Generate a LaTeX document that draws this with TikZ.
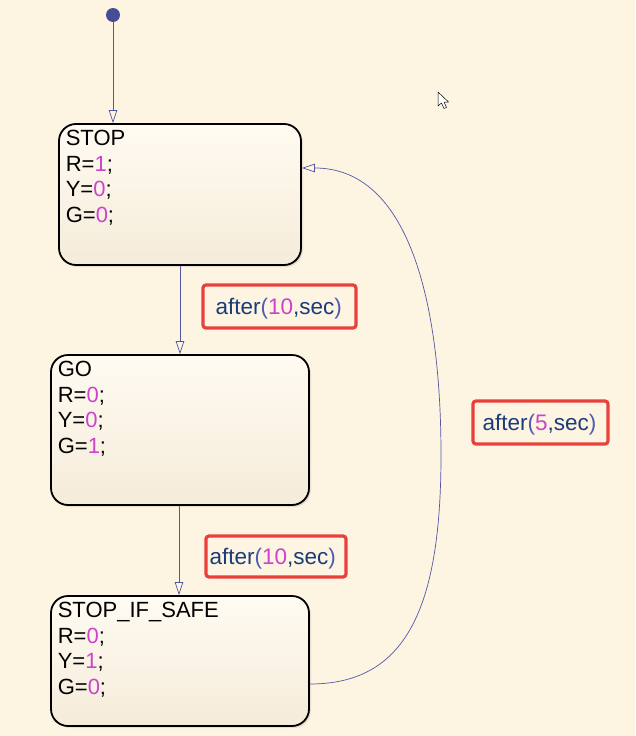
\documentclass[tikz,border=0pt]{standalone}
\usepackage{fontspec}
\setmainfont{Liberation Sans}
\usetikzlibrary{arrows.meta,calc,shadows}
\definecolor{bgc}{RGB}{253,244,226}
\definecolor{sttop}{RGB}{255,251,242}
\definecolor{stbot}{RGB}{245,235,217}
\definecolor{trc}{RGB}{82,87,166}
\definecolor{dotc}{RGB}{70,76,150}
\definecolor{redc}{RGB}{232,65,60}
\definecolor{navy}{RGB}{26,60,120}
\definecolor{parc}{RGB}{79,93,176}
\definecolor{magc}{RGB}{204,68,204}
\newcommand\nm[1]{\textcolor{magc}{#1}}
\newcommand\aft[1]{\textcolor{navy}{after}\textcolor{parc}{(}\nm{#1}\textcolor{navy}{,sec}\textcolor{parc}{)}}
\tikzset{
  stbox/.style={draw=black, line width=1.8pt, rounded corners=17pt, top color=sttop, bottom color=stbot,
    drop shadow={opacity=0.18, shadow xshift=2pt, shadow yshift=-2pt}, inner sep=0pt},
  sttext/.style={anchor=base west, inner sep=0pt, font=\fontsize{22}{26}\selectfont, text=black},
  trans/.style={draw=trc, line width=0.7pt, -{Triangle[open, length=13pt, width=8.5pt, fill=bgc]}},
  lblbox/.style={draw=redc, line width=3.2pt, rounded corners=3pt, fill=bgc, inner sep=0pt},
  lbltext/.style={anchor=base west, inner sep=0pt, font=\fontsize{22.5}{26}\selectfont},
}
\newcommand\stlines[5]{%
  \node[sttext] (#1-a) at ($(#1.north west)+(7.5,22.5)$) {#2};
  \node[sttext] (#1-b) at ($(#1.north west)+(7.5,48)$) {#3};
  \node[sttext] (#1-c) at ($(#1.north west)+(7.5,73.5)$) {#4};
  \node[sttext] (#1-d) at ($(#1.north west)+(7.5,99)$) {#5};
}
\begin{document}
\begin{tikzpicture}[x=1pt,y=-1pt]
\fill[bgc] (0,0) rectangle (635,736);
\useasboundingbox (0,0) rectangle (635,736);

% states
\node[stbox, minimum width=242pt, minimum height=141pt] (stop) at (180,194.5) {};
\node[stbox, minimum width=258pt, minimum height=150pt] (go) at (180,430) {};
\node[stbox, minimum width=258pt, minimum height=130pt] (sis) at (180,661) {};

\stlines{stop}{STOP}{R=\nm{1};}{Y=\nm{0};}{G=\nm{0};}
\stlines{go}{GO}{R=\nm{0};}{Y=\nm{0};}{G=\nm{1};}
\stlines{sis}{STOP\_IF\_SAFE}{R=\nm{0};}{Y=\nm{1};}{G=\nm{0};}

% default transition
\node[circle, fill=dotc, inner sep=0pt, minimum size=14pt] (init) at (113,15) {};
\draw[trans] (init) -- (stop.north -| init);

% transitions
\coordinate (s1) at (180,0);
\draw[trans] (stop.south -| s1) -- (go.north -| s1);
\coordinate (s2) at (179,0);
\draw[trans] (go.south -| s2) -- (sis.north -| s2);
\coordinate (s3) at (0,684);
\coordinate (s4) at (0,168);
\coordinate (mid) at (441,455);
\draw[trans] (sis.east |- s3) .. controls (405,684) and (441,610) .. (mid)
   .. controls (441,300) and (408,168) .. (stop.east |- s4);

% labels
\node[lblbox, minimum width=153pt, minimum height=43pt] (l1) at (279.5,306.5) {};
\node[lbltext] (l1t) at ($(l1.west)+(14,7.5)$) {\aft{10}};
\node[lblbox, minimum width=140pt, minimum height=41pt] (l2) at (276,556.5) {};
\node[lbltext] (l2t) at ($(l2.west)+(5,7.5)$) {\aft{10}};
\node[lblbox, minimum width=135pt, minimum height=43pt] (l3) at (540.5,422.5) {};
\node[lbltext] (l3t) at ($(l3.west)+(11,7.5)$) {\aft{5}};

% mouse cursor
\draw[black, line width=0.5pt, fill=white, line join=round]
  (438,92) -- (438,106) -- (441.5,103) -- (444,108.5) -- (446.5,107.5) -- (444,102) -- (448.5,102) -- cycle;
\end{tikzpicture}
\end{document}
